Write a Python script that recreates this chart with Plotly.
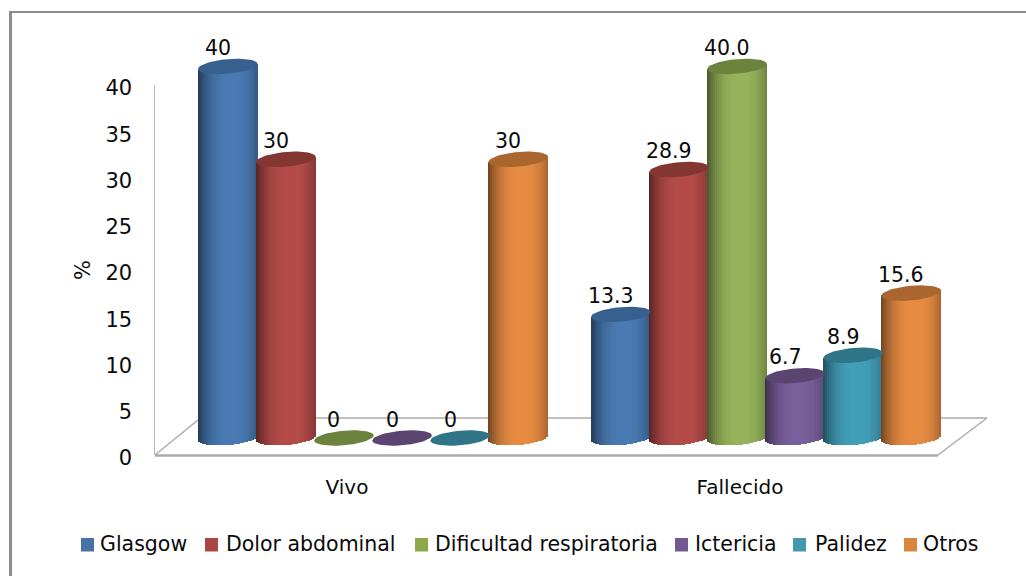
import numpy as np
import plotly.graph_objects as go

# Chart data
categories = ["Vivo", "Fallecido"]
series_names = ["Glasgow", "Dolor abdominal", "Dificultad respiratoria", "Ictericia", "Palidez", "Otros"]
glasgow = [40, 13.3]
dolor_abdominal = [30, 28.9]
dificultad_respiratoria = [0, 40.0]
ictericia = [0, 6.7]
palidez = [0, 8.9]
otros = [30, 15.6]
series_values = [glasgow, dolor_abdominal, dificultad_respiratoria, ictericia, palidez, otros]
label_formats = ["{:.0f}", "{:.1f}"]
y_ticks = [0, 5, 10, 15, 20, 25, 30, 35, 40]

# Base colours: body, cap, legend swatch
body_colors = ["#4A7BB4", "#B54C4A", "#96B45A", "#7A609C", "#42A0B9", "#E88C43"]
cap_colors = ["#37608F", "#843633", "#6C833E", "#5A4470", "#2F7587", "#A9662E"]
swatch_colors = ["#4672A8", "#AA4644", "#8BA84A", "#71588F", "#4198AF", "#DB843D"]

FONT = "DejaVu Sans"
TEXT = "#0A0A0A"
W, H = 1026, 576

# Pixel layout of the pseudo-3D plot
PX_VIVO, PX_CAT = 373.0, 393.0      # centre of first group, distance between groups
PITCH, RX, RY, SHEAR = 58.1, 29.8, 7.3, 0.085
PX_ZERO, PX_UNIT = 438.0, 9.29      # baseline of the cylinders, pixels per %
AXIS_ZERO, AXIS_UNIT = 455.0, 9.25  # baseline of the tick axis


def shade(hex_color, f):
    r, g, b = [int(hex_color[i:i + 2], 16) for i in (1, 3, 5)]
    return f"rgb({int(r * f)},{int(g * f)},{int(b * f)})"


def profile(u):
    # Light falls slightly right of centre, edges go dark
    return 0.48 + 0.52 * (1 - np.clip(np.abs(u - 0.12) / 1.12, 0, 1) ** 2.6)


N_STRIPS = 30
edges = np.linspace(-1, 1, N_STRIPS + 1)
us = (edges[:-1] + edges[1:]) / 2
strip_w = 2 * RX / N_STRIPS / PX_CAT
theta = np.linspace(0, 2 * np.pi, 61)

fig = go.Figure()

for s, (name, vals) in enumerate(zip(series_names, series_values)):
    xs, bases, heights, colors = [], [], [], []
    cap_x, cap_y = [], []
    for c, v in enumerate(vals):
        cx = c + (s - 2.5) * PITCH / PX_CAT
        if v > 0:
            # Cylinder body: thin vertical strips with a rounded lower end
            for u in us:
                lean = SHEAR * RX * u
                base = (-RY * np.sqrt(1 - u ** 2) + lean) / PX_UNIT
                top = v + lean / PX_UNIT
                xs.append(cx + u * RX / PX_CAT)
                bases.append(base)
                heights.append(top - base)
                colors.append(shade(body_colors[s], profile(u)))
        # Elliptical end cap at the value
        ex = np.cos(theta)
        ey = np.sin(theta) * RY + SHEAR * RX * ex
        cap_x += list(cx + ex * RX / PX_CAT) + [None]
        cap_y += list(v + ey / PX_UNIT) + [None]
    fig.add_bar(x=xs, y=heights, base=bases, width=strip_w * 1.15, xaxis="x", yaxis="y2", name=name,
                marker=dict(color=colors, line=dict(width=0)), showlegend=False, hoverinfo="skip")
    fig.add_scatter(x=cap_x, y=cap_y, mode="lines", fill="toself", fillcolor=cap_colors[s],
                    line=dict(width=0, color=cap_colors[s]), xaxis="x", yaxis="y2",
                    showlegend=False, hoverinfo="skip")

# Carrier trace so the tick axes are drawn
fig.add_scatter(x=[0, 1], y=[0, 40], mode="none", xaxis="x2", yaxis="y", showlegend=False, hoverinfo="skip")

# Value labels
annotations = []
for s, vals in enumerate(series_values):
    for c, v in enumerate(vals):
        annotations.append(dict(
            x=c + (s - 2.5) * PITCH / PX_CAT, y=v, xref="x", yref="y2",
            text=label_formats[c].format(v), showarrow=False, xshift=-10, yshift=18.5,
            font=dict(family=FONT, size=20.5, color=TEXT)))

GRAY = "#ABABAB"
def px(x): return x / W
def py(y): return 1 - y / H
def seg(x0, y0, x1, y1, width, color=GRAY):
    return dict(type="line", xref="paper", yref="paper", x0=px(x0), y0=py(y0), x1=px(x1), y1=py(y1),
                line=dict(color=color, width=width), layer="below")

# Floor of the 3D plot, outer frame
shapes = [
    seg(155, 455.5, 938, 455.5, 2.5),
    seg(155, 455, 198, 420, 1.5),
    seg(938, 455, 987, 418, 1.5),
    seg(198, 418, 987, 418, 1.5),
    seg(10.5, 11, 10.5, 576, 3, "#8C8C8C"),
    seg(9, 12, 1026, 12, 2, "#8C8C8C"),
]

# Legend row: square swatch plus label for each series
legend_swatch_x = [81, 205, 415, 675, 793, 904]
legend_text_x = [98, 224, 432.5, 692.5, 812.5, 920.5]
for name, color, sx, tx in zip(series_names, swatch_colors, legend_swatch_x, legend_text_x):
    shapes.append(dict(type="rect", xref="paper", yref="paper", x0=px(sx), x1=px(sx + 13),
                       y0=py(551.5), y1=py(538), fillcolor=color, line=dict(width=0)))
    annotations.append(dict(x=px(tx), y=py(544), xref="paper", yref="paper", text=name, showarrow=False,
                            xanchor="left", yanchor="middle",
                            font=dict(family=FONT, size=20.5, color=TEXT)))

# Axis domains derived from the pixel scales
y2_lo, y2_hi = -4.0, 44.0
y2_dom = [py(PX_ZERO - y2_lo * PX_UNIT), py(PX_ZERO - y2_hi * PX_UNIT)]
y_dom = [py(AXIS_ZERO), py(AXIS_ZERO - 40 * AXIS_UNIT)]
x_range = [-PX_VIVO / PX_CAT, (W - PX_VIVO) / PX_CAT]
LABEL_SHIFT = 26 / PX_CAT

fig.update_layout(
    width=W, height=H, margin=dict(l=0, r=0, t=0, b=0, autoexpand=False),
    paper_bgcolor="white", plot_bgcolor="rgba(0,0,0,0)",
    barmode="overlay", bargap=0, showlegend=False,
    font=dict(family=FONT, size=20, color=TEXT),
    shapes=shapes, annotations=annotations,
    xaxis=dict(domain=[0, 1], range=x_range, visible=False, fixedrange=True, anchor="y2"),
    yaxis2=dict(domain=y2_dom, range=[y2_lo, y2_hi], visible=False, fixedrange=True, anchor="x"),
    xaxis2=dict(domain=[0, 1], range=[x_range[0] + LABEL_SHIFT, x_range[1] + LABEL_SHIFT],
                tickmode="array", tickvals=[0, 1], ticktext=categories, showgrid=False, zeroline=False,
                showline=False, ticks="outside", ticklen=14, tickcolor="rgba(0,0,0,0)", anchor="y",
                fixedrange=True, tickfont=dict(family=FONT, size=20, color=TEXT)),
    yaxis=dict(domain=y_dom, range=[0, 40], tickmode="array", tickvals=y_ticks, showgrid=False, zeroline=False,
               showline=True, linecolor="#B8B8B8", linewidth=1.2, anchor="free", position=px(153.5),
               ticks="outside", ticklen=17, tickcolor="rgba(0,0,0,0)", fixedrange=True, ticklabelshift=3,
               title=dict(text="%", font=dict(family=FONT, size=21, color=TEXT), standoff=8),
               tickfont=dict(family=FONT, size=21, color=TEXT)),
)

fig.write_html("out.html")
